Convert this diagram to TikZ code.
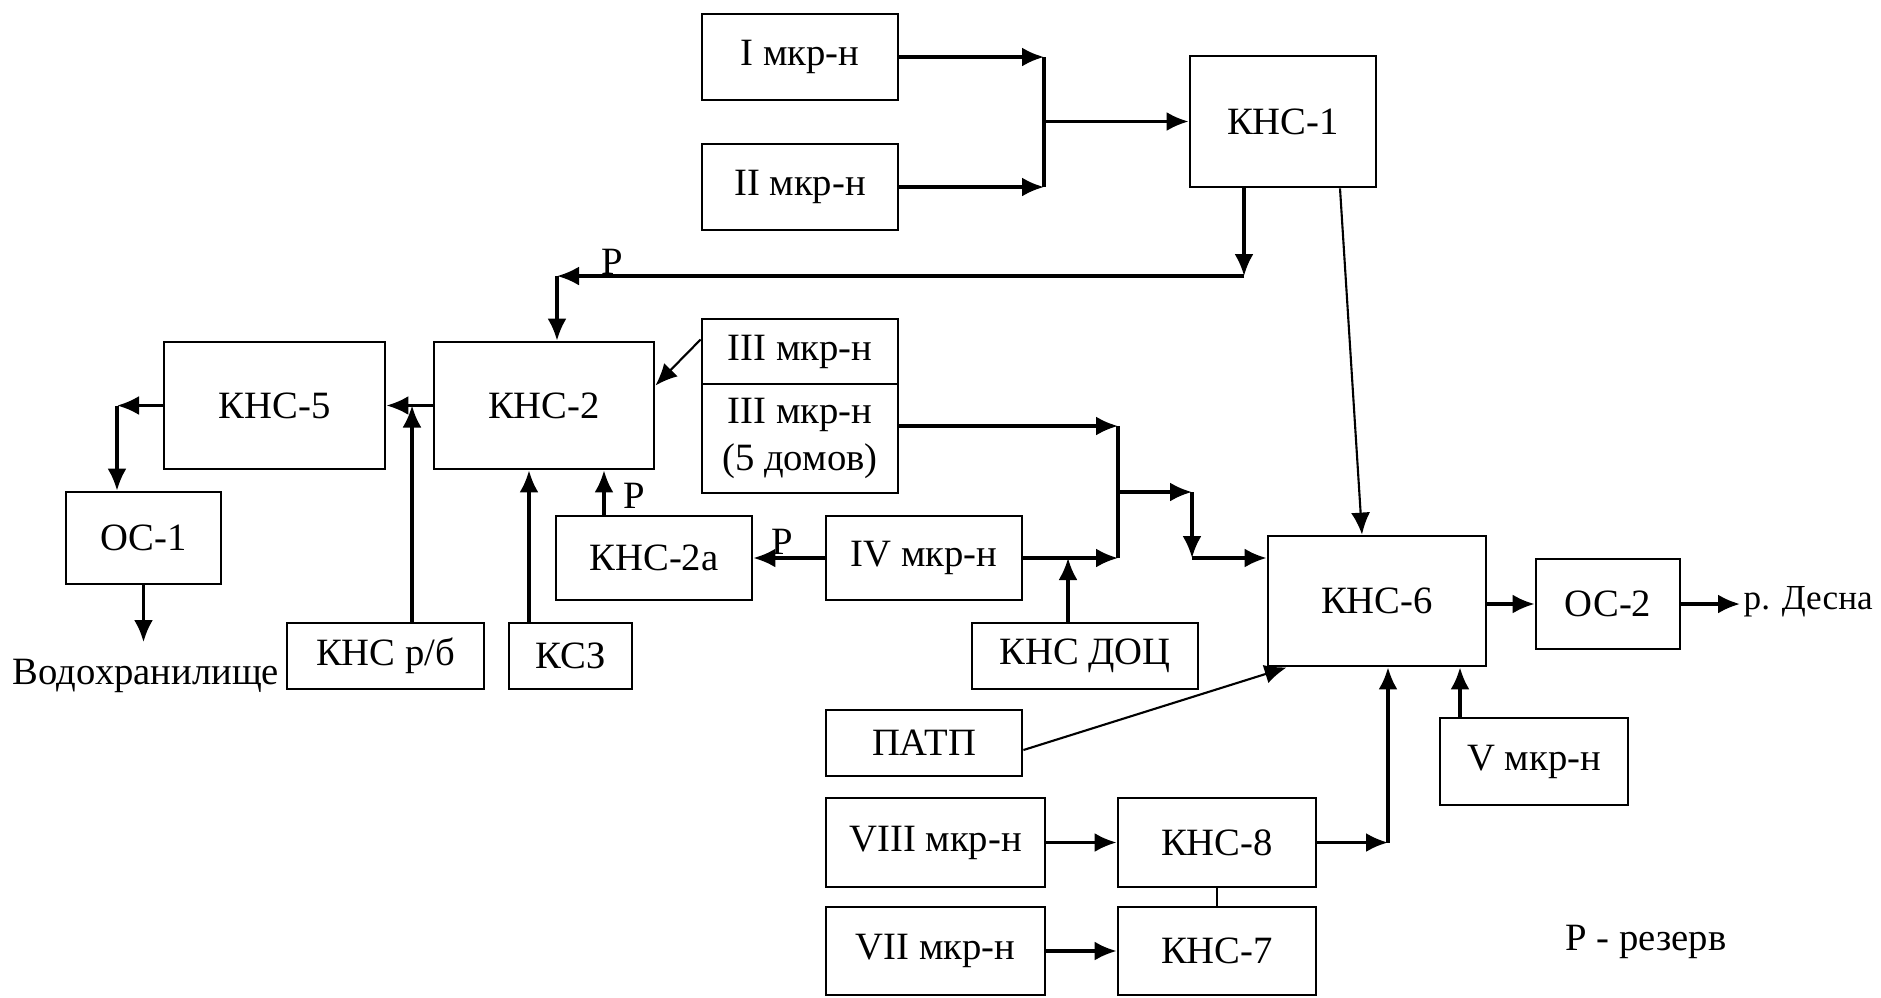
\documentclass[tikz,border=0pt]{standalone}
\usepackage{fontspec}
\setmainfont{Liberation Serif}
\usetikzlibrary{arrows.meta}
\begin{document}
\begin{tikzpicture}[x=0.1mm,y=-0.1mm,
  box/.style={draw,line width=0.8pt,inner sep=0pt,align=center,font=\fontsize{11}{13.5}\selectfont},
  lbl/.style={inner sep=0.5mm,font=\fontsize{11}{13.5}\selectfont},
  con/.style={line width=0.9pt},
  thn/.style={line width=0.6pt},
  >={Latex[length=2.2mm,width=1.9mm]}]
\useasboundingbox (0,0) rectangle (1881,997);
% boxes
\node[box,minimum width=19.6mm,minimum height=8.6mm] (m1) at (800,57) {I мкр-н};
\node[box,minimum width=19.6mm,minimum height=8.6mm] (m2) at (800,187) {II мкр-н};
\node[box,minimum width=18.6mm,minimum height=13.1mm] (k1) at (1283,121.5) {КНС-1};
\node[box,minimum width=22.1mm,minimum height=12.7mm] (k5) at (274.5,405.5) {КНС-5};
\node[box,minimum width=22mm,minimum height=12.7mm] (k2) at (544,405.5) {КНС-2};
\node[box,minimum width=15.5mm,minimum height=9.2mm] (os1) at (143.5,538) {ОС-1};
\node[box,minimum width=19.7mm,minimum height=6.6mm] (krb) at (385.5,656) {КНС р/б};
\node[box,minimum width=12.3mm,minimum height=6.6mm] (ksz) at (570.5,656) {КСЗ};
\node[box,minimum width=19.6mm,minimum height=8.4mm] (k2a) at (654,558) {КНС-2а};
\node[box,minimum width=19.6mm,minimum height=6.5mm] (m3) at (800,351.5) {III мкр-н};
\node[box,minimum width=19.6mm,minimum height=10.9mm] (m3b) at (800,438.5) {III мкр-н\\(5 домов)};
\node[box,minimum width=19.6mm,minimum height=8.4mm] (m4) at (924,558) {IV мкр-н};
\node[box,minimum width=22.6mm,minimum height=6.6mm] (doc) at (1085,656) {КНС ДОЦ};
\node[box,minimum width=21.8mm,minimum height=13mm] (k6) at (1377,601) {КНС-6};
\node[box,minimum width=14.4mm,minimum height=9mm] (os2) at (1608,604) {ОС-2};
\node[box,minimum width=19.6mm,minimum height=6.6mm] (patp) at (924,743) {ПАТП};
\node[box,minimum width=18.8mm,minimum height=8.7mm] (m5) at (1534,761.5) {V мкр-н};
\node[box,minimum width=21.9mm,minimum height=8.9mm] (m8) at (935.5,842.5) {VIII мкр-н};
\node[box,minimum width=19.8mm,minimum height=8.9mm] (k8) at (1217,842.5) {КНС-8};
\node[box,minimum width=21.9mm,minimum height=8.8mm] (m7) at (935.5,951) {VII мкр-н};
\node[box,minimum width=19.8mm,minimum height=8.8mm] (k7) at (1217,951) {КНС-7};
% texts
\node[lbl] (vod) at (146,676) {Водохранилище};
\node[lbl,anchor=west,inner sep=0.3mm,font=\fontsize{10}{12}\selectfont] (desna) at (1740,602) {р. Десна};
\node[lbl] (rez) at (1646,942) {Р - резерв};
\node[lbl] (p1) at (612,262) {Р};
\node[lbl] (p2) at (634,496) {Р};
\node[lbl] (p3) at (782,542) {Р};
% bends
\coordinate (j1) at (1044,57);
\coordinate (j2) at (1044,187);
\coordinate (j3) at (1044,121.5);
\coordinate (r1) at (1244,276);
\coordinate (r2) at (557,276);
\coordinate (a5) at (412,405.5);
\coordinate (a6) at (117,405.5);
\coordinate (a7) at (143.5,642);
\coordinate (xk) at (529,0);
\coordinate (xa) at (604,0);
\coordinate (b1) at (1118,426);
\coordinate (b2) at (1118,558);
\coordinate (b3) at (1118,492);
\coordinate (b4) at (1192,492);
\coordinate (b5) at (1192,558);
\coordinate (xd) at (1068,0);
\coordinate (xv) at (1460,0);
\coordinate (c1) at (1388,842.5);
% connectors
\draw[con,->] (m1.east) -- (j1);
\draw[con,->] (m2.east) -- (j2);
\draw[con] (j1) -- (j2);
\draw[con,->] (j3) -- (k1);
\draw[con,->] (k1.south -| r1) -- (r1);
\draw[con,->] (r1) -- (r2);
\draw[con,->] (r2) -- (r2 |- k2.north);
\draw[thn,->] ([xshift=5.7mm]k1.south) -- ([xshift=-1.5mm]k6.north);
\draw[con,->] (k2.west) -- (k5.east);
\draw[con,->] (krb.north -| a5) -- (a5);
\draw[con,->] (k5.west) -- (a6);
\draw[con,->] (a6) -- (a6 |- os1.north);
\draw[con,->] (os1.south) -- (a7);
\draw[con,->] (xk |- ksz.north) -- (xk |- k2.south);
\draw[con,->] (xa |- k2a.north) -- (xa |- k2.south);
\draw[thn,->] ([yshift=1.2mm]m3.west) -- ([yshift=2mm]k2.east);
\draw[con,->] (m3b.east |- b1) -- (b1);
\draw[con] (b1) -- (b2);
\draw[con,->] (m4.east) -- (b2);
\draw[con,->] (xd |- doc.north) -- (xd |- m4.east);
\draw[con,->] (m4.west) -- (k2a.east);
\draw[con,->] (b3) -- (b4);
\draw[con,->] (b4) -- (b5);
\draw[con,->] (b5) -- (b5 -| k6.west);
\draw[con,->] (k6.east |- os2.west) -- (os2.west);
\draw[con,->] (os2.east) -- (os2.east -| desna.west);
\draw[thn,->] ([yshift=-0.7mm]patp.east) -- ([xshift=2mm]k6.south west);
\draw[con,->] (xv |- m5.north) -- (xv |- k6.south);
\draw[con,->] (m8.east) -- (k8.west);
\draw[con,->] (m7.east) -- (k7.west);
\draw[thn] (k8.south) -- (k7.north);
\draw[con,->] (k8.east) -- (c1);
\draw[con,->] (c1) -- (c1 |- k6.south);
\end{tikzpicture}
\end{document}
